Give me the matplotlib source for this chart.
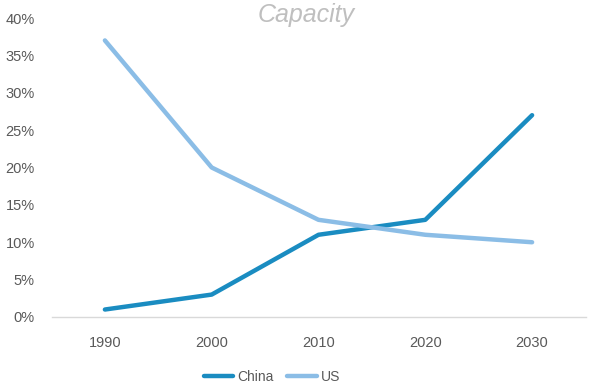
import matplotlib
matplotlib.use("Agg")
import matplotlib.pyplot as plt
from matplotlib.ticker import FuncFormatter

plt.rcParams['font.family'] = ['Liberation Sans Narrow', 'Liberation Sans', 'DejaVu Sans']

years = ['1990', '2000', '2010', '2020', '2030']
china = [1, 3, 11, 13, 27]
us = [37, 20, 13, 11, 10]
yticks = [0, 5, 10, 15, 20, 25, 30, 35, 40]

fig = plt.figure(figsize=(5.89, 3.84), dpi=100)
ax = fig.add_axes([51.5/589, 67/384, 534/589, 299/384])

x = list(range(len(years)))
ax.plot(x, china, color='#1a8cc1', lw=3.2, solid_capstyle='round', label='China')
ax.plot(x, us, color='#8bbde6', lw=3.2, solid_capstyle='round', label='US')

ax.set_xlim(-0.5, len(years) - 0.5)
ax.set_ylim(0, 40)
ax.set_xticks(x)
ax.set_xticklabels(years)
ax.set_yticks(yticks)
ax.yaxis.set_major_formatter(FuncFormatter(lambda v, p: f'{v:.0f}%'))
ax.tick_params(length=0, labelsize=10.5, colors='#595959')
ax.tick_params(axis='x', pad=14)
ax.tick_params(axis='y', pad=12)
for s in ['top', 'right', 'left']:
    ax.spines[s].set_visible(False)
ax.spines['bottom'].set_color('#d9d9d9')
ax.spines['bottom'].set_linewidth(1)

fig.text(306/589, 1 - 15/384, 'Capacity', ha='center', va='center',
         fontsize=18, style='italic', color='#bfbfbf')

fig.legend(loc='center', bbox_to_anchor=(272/589, 1 - 377/384), ncol=2,
           frameon=False, fontsize=10, handlelength=2.1, columnspacing=1.0,
           handletextpad=0.3, labelcolor='#595959')

fig.savefig('out.png', dpi=100)
